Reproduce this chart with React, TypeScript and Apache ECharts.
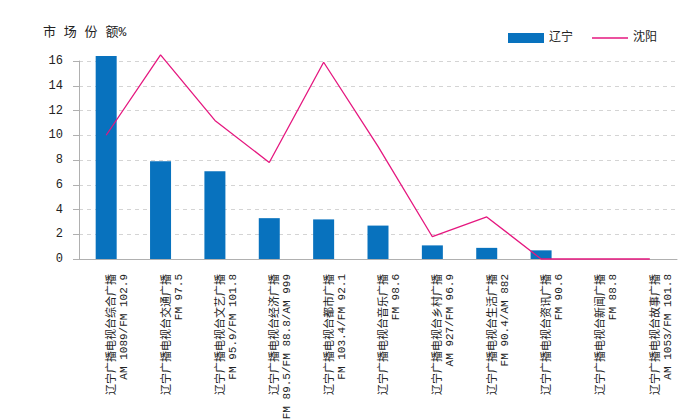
import React, { useEffect, useRef } from "react";
import * as echarts from "echarts";

const categories = [
  "辽宁广播电视台综合广播\nAM 1089/FM 102.9",
  "辽宁广播电视台交通广播\nFM 97.5",
  "辽宁广播电视台文艺广播\nFM 95.9/FM 101.8",
  "辽宁广播电视台经济广播\nFM 89.5/FM 88.8/AM 999",
  "辽宁广播电视台都市广播\nFM 103.4/FM 92.1",
  "辽宁广播电视台音乐广播\nFM 98.6",
  "辽宁广播电视台乡村广播\nAM 927/FM 96.9",
  "辽宁广播电视台生活广播\nFM 90.4/AM 882",
  "辽宁广播电视台资讯广播\nFM 90.6",
  "辽宁广播电视台新闻广播\nFM 88.8",
  "辽宁广播电视台故事广播\nAM 1053/FM 101.8",
];
const liaoning = [16.4, 7.9, 7.1, 3.3, 3.2, 2.7, 1.1, 0.9, 0.7, 0, 0];
const shenyang = [10.0, 16.5, 11.2, 7.8, 15.9, 9.1, 1.8, 3.4, 0, 0, 0];
const yTicks = { min: 0, max: 16, interval: 2 };

const MONO = "'Liberation Mono', 'Noto Sans CJK SC', monospace";

export default function App() {
  const ref = useRef<HTMLDivElement>(null);
  useEffect(() => {
    if (!ref.current) return;
    const chart = echarts.init(ref.current, undefined, { renderer: "svg" });
    chart.setOption({
      animation: false,
      backgroundColor: "#ffffff",
      textStyle: { fontFamily: MONO },
      graphic: [
        {
          type: "text",
          left: 43,
          top: 26,
          style: { text: "市 场 份 额%", font: `13px ${MONO}`, fill: "#222" },
        },
      ],
      legend: {
        left: 503,
        top: 27,
        itemWidth: 36,
        itemHeight: 10,
        itemGap: 19,
        textStyle: { fontSize: 12, color: "#222", fontFamily: MONO },
        data: [
          { name: "辽宁", icon: "rect" },
          { name: "沈阳", icon: "path://M0,0 H36 V1.6 H0 Z" },
        ],
      },
      grid: {
        left: 79,
        right: 23,
        top: 61,
        bottom: 160,
        containLabel: false,
        outerBoundsMode: "none",
      },
      xAxis: {
        type: "category",
        data: categories,
        axisLine: { lineStyle: { color: "#b0b0b0", width: 1 } },
        axisTick: { show: false },
        axisLabel: {
          rotate: 90,
          interval: 0,
          margin: 15,
          fontSize: 11,
          lineHeight: 12,
          color: "#222",
          fontFamily: MONO,
          verticalAlign: "top",
        },
      },
      yAxis: {
        type: "value",
        min: yTicks.min,
        max: yTicks.max,
        interval: yTicks.interval,
        axisLine: { show: true, lineStyle: { color: "#b0b0b0" } },
        axisTick: { show: true, length: 6, lineStyle: { color: "#b0b0b0" } },
        axisLabel: { margin: 16, fontSize: 12, color: "#222", fontFamily: MONO },
        splitLine: { lineStyle: { color: "#d4d4d4", type: [4, 4] } },
      },
      series: [
        {
          name: "辽宁",
          type: "bar",
          data: liaoning,
          barWidth: 21,
          clip: false,
          itemStyle: { color: "#0872be" },
        },
        {
          name: "沈阳",
          type: "line",
          data: shenyang,
          symbol: "none",
          clip: false,
          lineStyle: { color: "#e5177f", width: 1.3 },
          itemStyle: { color: "#e5177f" },
        },
      ],
    });
    return () => chart.dispose();
  }, []);
  return (
    <div
      ref={ref}
      style={{ position: "fixed", left: 0, top: 0, width: 700, height: 419 }}
    />
  );
}
